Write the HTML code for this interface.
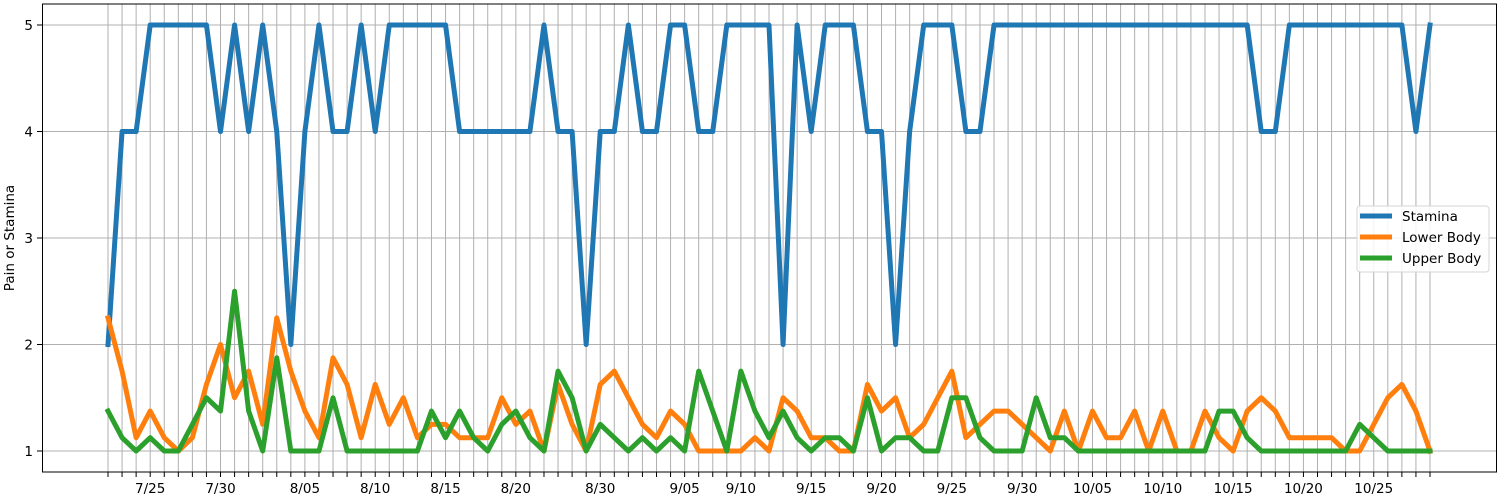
<!DOCTYPE html>
<html><head><meta charset="utf-8"><style>
html,body{margin:0;padding:0;background:#fff;width:1500px;height:500px;overflow:hidden}
svg text{font-family:"DejaVu Sans","Liberation Sans",sans-serif;font-size:13.5px;fill:#000}
</style></head><body>
<svg id="chart" width="1500" height="500" viewBox="0 0 1500 500" xmlns="http://www.w3.org/2000/svg">
<g id="grid"></g>
<g id="series"></g>
<rect x="42.5" y="4" width="1454" height="468" fill="none" stroke="#000" stroke-width="1"/>
<g id="ticks"></g>
<text x="14" y="238" text-anchor="middle" transform="rotate(-90 14 238)">Pain or Stamina</text>
<g>
<rect x="1357" y="206" width="132" height="66" rx="3" fill="#fff" fill-opacity="0.85" stroke="#d6d6d6"/>
<line x1="1360" y1="216" x2="1392" y2="216" stroke="#1f77b4" stroke-width="5"/>
<text x="1402" y="221">Stamina</text>
<line x1="1360" y1="237" x2="1392" y2="237" stroke="#ff7f0e" stroke-width="5"/>
<text x="1402" y="242">Lower Body</text>
<line x1="1360" y1="258" x2="1392" y2="258" stroke="#2ca02c" stroke-width="5"/>
<text x="1402" y="263">Upper Body</text>
</g>
</svg>
<script>
const stamina=[2,4,4,5,5,5,5,5,4,5,4,5,4,2,4,5,4,4,5,4,5,5,5,5,5,4,4,4,4,4,4,5,4,4,2,4,4,5,4,4,5,5,4,4,5,5,5,5,2,5,4,5,5,5,4,4,2,4,5,5,5,4,4,5,5,5,5,5,5,5,5,5,5,5,5,5,5,5,5,5,5,5,4,4,5,5,5,5,5,5,5,5,5,4,5];
const lowerBody=[2.25,1.75,1.125,1.375,1.125,1,1.125,1.625,2,1.5,1.75,1.25,2.25,1.75,1.375,1.125,1.875,1.625,1.125,1.625,1.25,1.5,1.125,1.25,1.25,1.125,1.125,1.125,1.5,1.25,1.375,1,1.625,1.25,1,1.625,1.75,1.5,1.25,1.125,1.375,1.25,1,1,1,1,1.125,1,1.5,1.375,1.125,1.125,1,1,1.625,1.375,1.5,1.125,1.25,1.5,1.75,1.125,1.25,1.375,1.375,1.25,1.125,1,1.375,1,1.375,1.125,1.125,1.375,1,1.375,1,1,1.375,1.125,1,1.375,1.5,1.375,1.125,1.125,1.125,1.125,1,1,1.25,1.5,1.625,1.375,1];
const upperBody=[1.375,1.125,1,1.125,1,1,1.25,1.5,1.375,2.5,1.375,1,1.875,1,1,1,1.5,1,1,1,1,1,1,1.375,1.125,1.375,1.125,1,1.25,1.375,1.125,1,1.75,1.5,1,1.25,1.125,1,1.125,1,1.125,1,1.75,1.375,1,1.75,1.375,1.125,1.375,1.125,1,1.125,1.125,1,1.5,1,1.125,1.125,1,1,1.5,1.5,1.125,1,1,1,1.5,1.125,1.125,1,1,1,1,1,1,1,1,1,1,1.375,1.375,1.125,1,1,1,1,1,1,1,1.25,1.125,1,1,1,1];
const xLabelIndex=[3,8,14,19,24,29,35,41,45,50,55,60,65,70,75,80,85,90];
const xLabelText=["7/25","7/30","8/05","8/10","8/15","8/20","8/30","9/05","9/10","9/15","9/20","9/25","9/30","10/05","10/10","10/15","10/20","10/25"];
const yTicks=[1,2,3,4,5];

const NS="http://www.w3.org/2000/svg";
const N=stamina.length;
const X0=108,X1=1430;
function xs(i){return X0+i*(X1-X0)/(N-1);}
function ys(v){return 451-(v-1)*106.5;}
function mk(tag,attrs,parent){const e=document.createElementNS(NS,tag);for(const k in attrs)e.setAttribute(k,attrs[k]);parent.appendChild(e);return e;}
const grid=document.getElementById('grid'),ticks=document.getElementById('ticks'),series=document.getElementById('series');
for(let i=0;i<N;i++){
  const g=mk('line',{x1:xs(i),x2:xs(i),y1:4,y2:472,stroke:'#b0b0b0','stroke-width':1},grid);
  
  
  const t=mk('line',{x1:xs(i),x2:xs(i),y1:472,y2:477,stroke:'#000','stroke-width':1},ticks);
  
  
}
yTicks.forEach(v=>{
  const g=mk('line',{x1:42,x2:1497,y1:ys(v),y2:ys(v),stroke:'#b0b0b0','stroke-width':1},grid);
  
  
  const t=mk('line',{x1:37,x2:42,y1:ys(v),y2:ys(v),stroke:'#000','stroke-width':1},ticks);
  
  
  const l=mk('text',{x:33,y:ys(v)+5,'text-anchor':'end'},ticks);
  l.textContent=v;
  
  
});
xLabelIndex.forEach((idx,k)=>{
  const l=mk('text',{x:xs(idx),y:493,'text-anchor':'middle'},ticks);
  l.textContent=xLabelText[k];
  
  
});
function drawLine(arr,color,name){
  const p=mk('polyline',{points:arr.map((v,i)=>xs(i)+','+ys(v)).join(' '),fill:'none',stroke:color,'stroke-width':5,'stroke-linejoin':'round','stroke-linecap':'square'},series);
  
  
}
drawLine(stamina,'#1f77b4','stamina-line');
drawLine(lowerBody,'#ff7f0e','lower-body-line');
drawLine(upperBody,'#2ca02c','upper-body-line');
</script>
</body></html>
